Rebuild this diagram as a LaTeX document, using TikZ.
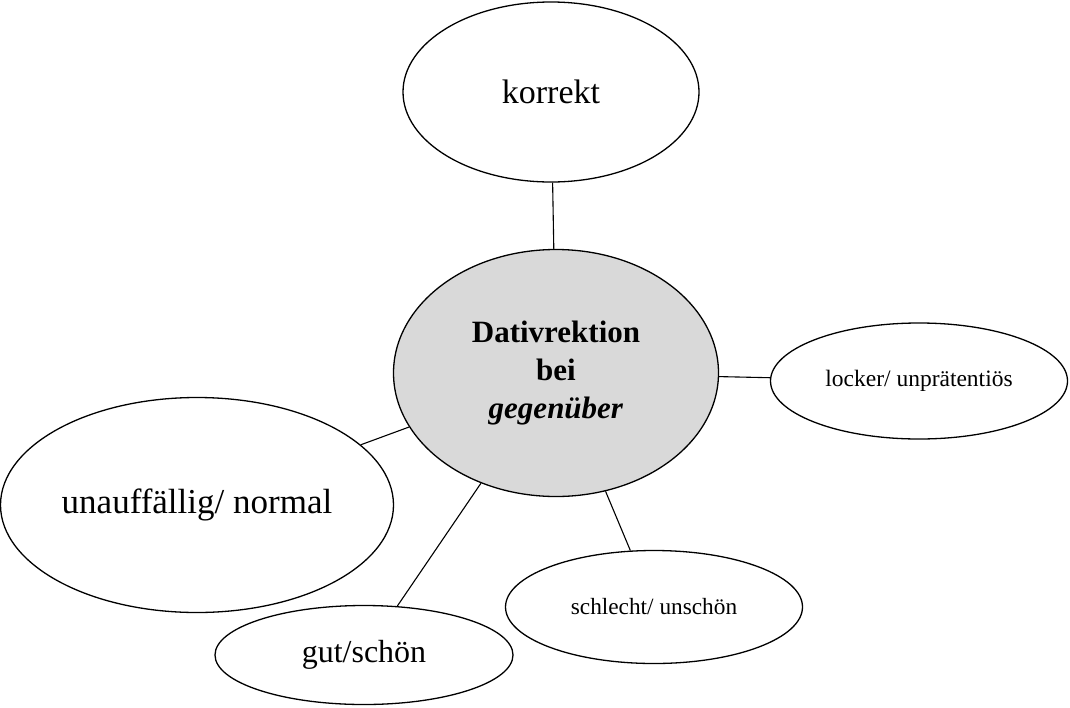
\documentclass[tikz,border=0pt]{standalone}
\usepackage{fontspec}
\setmainfont{Liberation Serif}
\usetikzlibrary{shapes.geometric}
\definecolor{centerfill}{HTML}{D9D9D9}
\tikzset{
  ell/.style={ellipse, draw=black, line width=1.3pt, inner sep=0pt, align=center},
  link/.style={draw=black, line width=1.1pt},
}
\begin{document}
\begin{tikzpicture}[x=1pt,y=-1pt]
\useasboundingbox (0,0) rectangle (1070,707);
\node[ell, fill=centerfill, minimum width=325pt, minimum height=247pt,
      font=\fontsize{31}{38}\selectfont\bfseries] (c) at (556,373)
  {\raisebox{-3pt}{Dativrektion}\\\raisebox{-3pt}{bei}\\\raisebox{-3pt}{\textit{gegenüber}}};
\node[ell, minimum width=296pt, minimum height=180pt,
      font=\fontsize{34}{40}\selectfont] (k) at (551,92) {korrekt};
\node[ell, minimum width=297pt, minimum height=116pt,
      font=\fontsize{23.5}{28}\selectfont] (l) at (919,381) {locker/ unprätentiös};
\node[ell, minimum width=393pt, minimum height=215pt,
      font=\fontsize{35}{40}\selectfont] (u) at (197,505) {\raisebox{-3pt}{unauffällig/ normal}};
\node[ell, minimum width=298pt, minimum height=99pt,
      font=\fontsize{32}{36}\selectfont] (g) at (364,655) {\raisebox{-3pt}{gut/schön}};
\node[ell, minimum width=297pt, minimum height=113pt,
      font=\fontsize{23.3}{28}\selectfont] (s) at (654,607) {schlecht/ unschön};
\draw[link] (c) -- (k);
\draw[link] (c) -- (l);
\draw[link] (c) -- (u);
\draw[link] (c) -- (g);
\draw[link] (c) -- (s);
\end{tikzpicture}
\end{document}
